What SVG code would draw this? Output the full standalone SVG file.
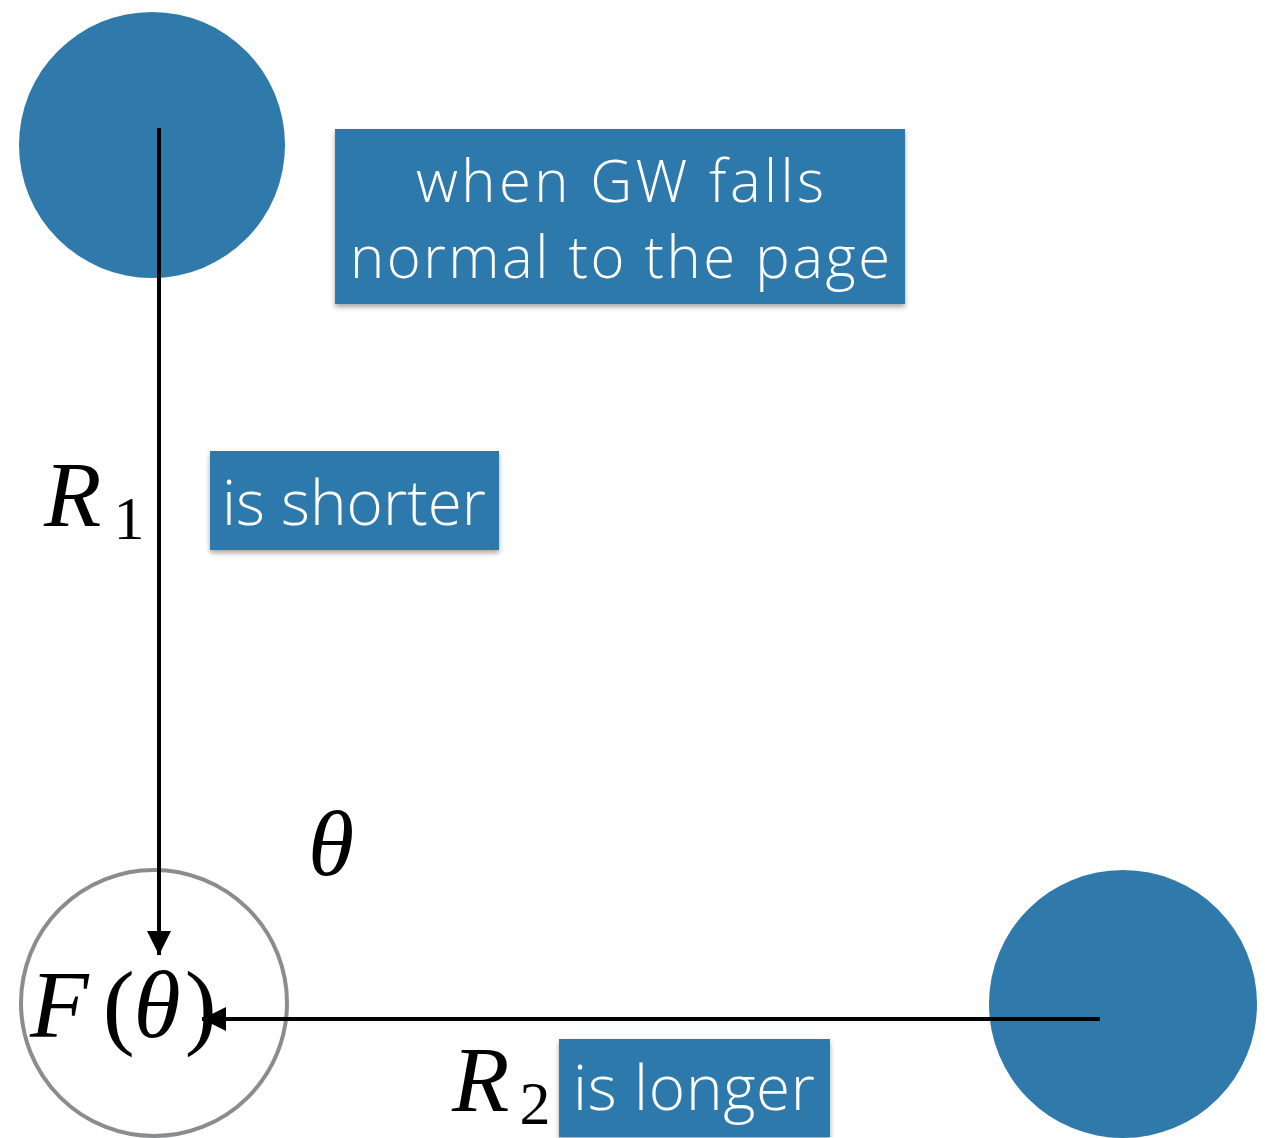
<svg xmlns="http://www.w3.org/2000/svg" width="1265" height="1138" viewBox="0 0 1265 1138">
<style>
.blob{fill:#2f79ab}
.box{fill:#2f79ab;filter:url(#sh)}
.lbl{font-family:"Open Sans",Roboto,"Liberation Sans",sans-serif;font-weight:300;fill:#ffffff;text-anchor:middle}
.math{font-family:"Liberation Serif",serif;font-style:italic;fill:#000}
.rm{font-family:"Liberation Serif",serif;font-style:normal;fill:#000}
.conn{stroke:#000;stroke-width:4;fill:none}
</style>
<defs>
<filter id="sh" x="-10%" y="-10%" width="120%" height="130%">
<feDropShadow dx="0" dy="3" stdDeviation="2.5" flood-color="#000" flood-opacity="0.35"/>
</filter>
<marker id="ah" markerWidth="26" markerHeight="26" refX="24" refY="12" orient="auto" markerUnits="userSpaceOnUse">
<path d="M0,0 L24,12 L0,24 z" fill="#000"/>
</marker>
</defs>
<g id="mass1"><circle class="blob" cx="152" cy="145" r="133"/></g>
<g id="mass2"><circle class="blob" cx="1123" cy="1004" r="134"/></g>
<g id="detector">
<circle cx="154" cy="1003" r="133" fill="#fff" stroke="#8a8c8f" stroke-width="4"/>
<text x="30" y="1037" font-size="96"><tspan class="math">F</tspan><tspan class="rm" dx="14">(</tspan><tspan class="math" dx="-1">θ</tspan><tspan class="rm" dx="4">)</tspan></text>
</g>
<g id="connectors">
<line class="conn" x1="159" y1="128" x2="159" y2="955" marker-end="url(#ah)"/>
<line class="conn" x1="1100" y1="1019" x2="202" y2="1019" marker-end="url(#ah)"/>
</g>
<g id="label-normal">
<rect class="box" x="335" y="129" width="570" height="175"/>
<text class="lbl" x="620" y="202" font-size="58" textLength="408" lengthAdjust="spacing">when GW falls</text>
<text class="lbl" x="620" y="278" font-size="58" textLength="540" lengthAdjust="spacing">normal to the page</text>
</g>
<g id="label-shorter">
<rect class="box" x="210" y="451" width="289" height="99"/>
<text class="lbl" x="354" y="525" font-size="62" textLength="264" lengthAdjust="spacing">is shorter</text>
</g>
<g id="label-longer">
<rect class="box" x="559" y="1039" width="271" height="98"/>
<text class="lbl" x="694" y="1110" font-size="62" textLength="242" lengthAdjust="spacing">is longer</text>
</g>
<g id="R1"><text x="44" y="526" font-size="94"><tspan class="math">R</tspan><tspan class="rm" font-size="62" dx="12" dy="13">1</tspan></text></g>
<g id="R2"><text x="452" y="1111" font-size="94"><tspan class="math">R</tspan><tspan class="rm" font-size="62" dx="10" dy="13">2</tspan></text></g>
<g id="theta"><text class="math" x="308" y="875" font-size="94">θ</text></g>
</svg>
